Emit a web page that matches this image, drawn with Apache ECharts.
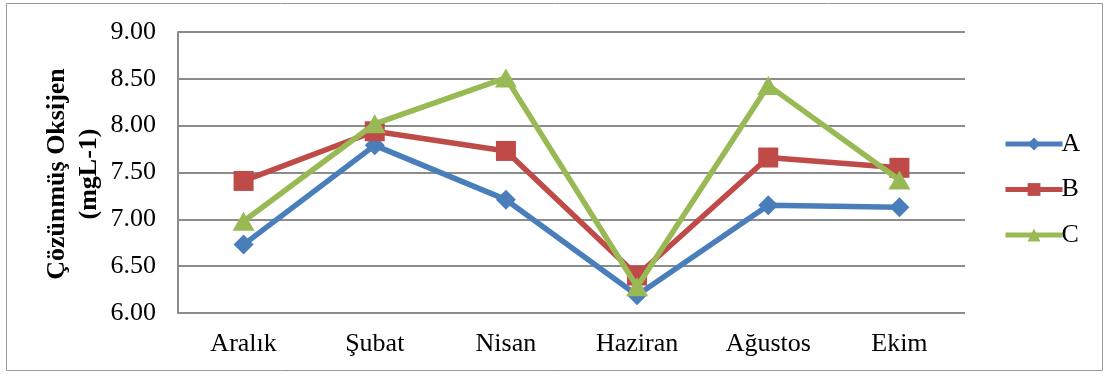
<!DOCTYPE html>
<html>
<head>
<meta charset="utf-8">
<script src="https://cdn.jsdelivr.net/npm/echarts@6/dist/echarts.min.js"></script>
<style>
  html, body { margin: 0; padding: 0; background: #fff; }
  #chart { width: 1107px; height: 374px; }
</style>
</head>
<body>
<div id="chart"></div>
<script>
// Dissolved oxygen by month for three stations
const months = ['Aralık', 'Şubat', 'Nisan', 'Haziran', 'Ağustos', 'Ekim'];
const seriesA = [6.73, 7.79, 7.21, 6.19, 7.15, 7.13];
const seriesB = [7.41, 7.94, 7.73, 6.40, 7.66, 7.55];
const seriesC = [6.98, 8.02, 8.51, 6.28, 8.43, 7.42];
const seriesNames = ['A', 'B', 'C'];
const yTicks = { min: 6, max: 9, step: 0.5 };
const yTitle = 'Çözünmüş Oksijen\n(mgL-1)';

const font = '"Liberation Serif", "Times New Roman", serif';
const colors = ['#4A7EBB', '#BE4B48', '#98B954'];
const symbols = ['diamond', 'rect', 'triangle'];
const symbolSizes = [20, 20, [22, 19]];

const chart = echarts.init(document.getElementById('chart'));

const series = [seriesA, seriesB, seriesC].map((data, i) => ({
  name: seriesNames[i],
  type: 'line',
  data: data,
  symbol: symbols[i],
  symbolSize: symbolSizes[i],
  showAllSymbol: true,
  lineStyle: { color: colors[i], width: 5.5 },
  itemStyle: { color: colors[i] },
  emphasis: { disabled: true },
  z: 3 + i
}));

chart.setOption({
  animation: false,
  graphic: [{
    type: 'rect',
    shape: { x: 6.5, y: 3.5, width: 1096, height: 367 },
    style: { fill: 'none', stroke: '#9a9a9a', lineWidth: 1 },
    silent: true
  }, {
    // vertical axis title
    type: 'text',
    x: 73,
    y: 174,
    rotation: Math.PI / 2,
    silent: true,
    style: {
      text: yTitle,
      font: 'bold 26px ' + font,
      fill: '#000',
      align: 'center',
      verticalAlign: 'middle',
      lineHeight: 32
    }
  }],
  grid: { left: 178, right: 142, top: 32, bottom: 61 },
  legend: {
    orient: 'vertical',
    left: 998,
    top: 126,
    itemWidth: 57,
    itemHeight: 16,
    itemGap: 19.5,
    data: seriesNames,
    lineStyle: { width: 5 },
    textStyle: { fontFamily: font, fontSize: 26, color: '#000', padding: [0, 0, 0, -6] }
  },
  xAxis: {
    type: 'category',
    data: months,
    boundaryGap: true,
    axisLine: { show: false },
    axisTick: { show: false },
    axisLabel: { fontFamily: font, fontSize: 26, color: '#000', margin: 18 }
  },
  yAxis: {
    type: 'value',
    min: yTicks.min,
    max: yTicks.max,
    interval: yTicks.step,
    axisLine: { show: true, lineStyle: { color: '#8c8c8c', width: 2 } },
    axisTick: { show: false },
    axisLabel: {
      fontFamily: font, fontSize: 26, color: '#000', margin: 22,
      formatter: v => v.toFixed(2)
    },
    splitLine: { lineStyle: { color: '#8c8c8c', width: 2 } }
  },
  series: series
});
</script>
</body>
</html>
